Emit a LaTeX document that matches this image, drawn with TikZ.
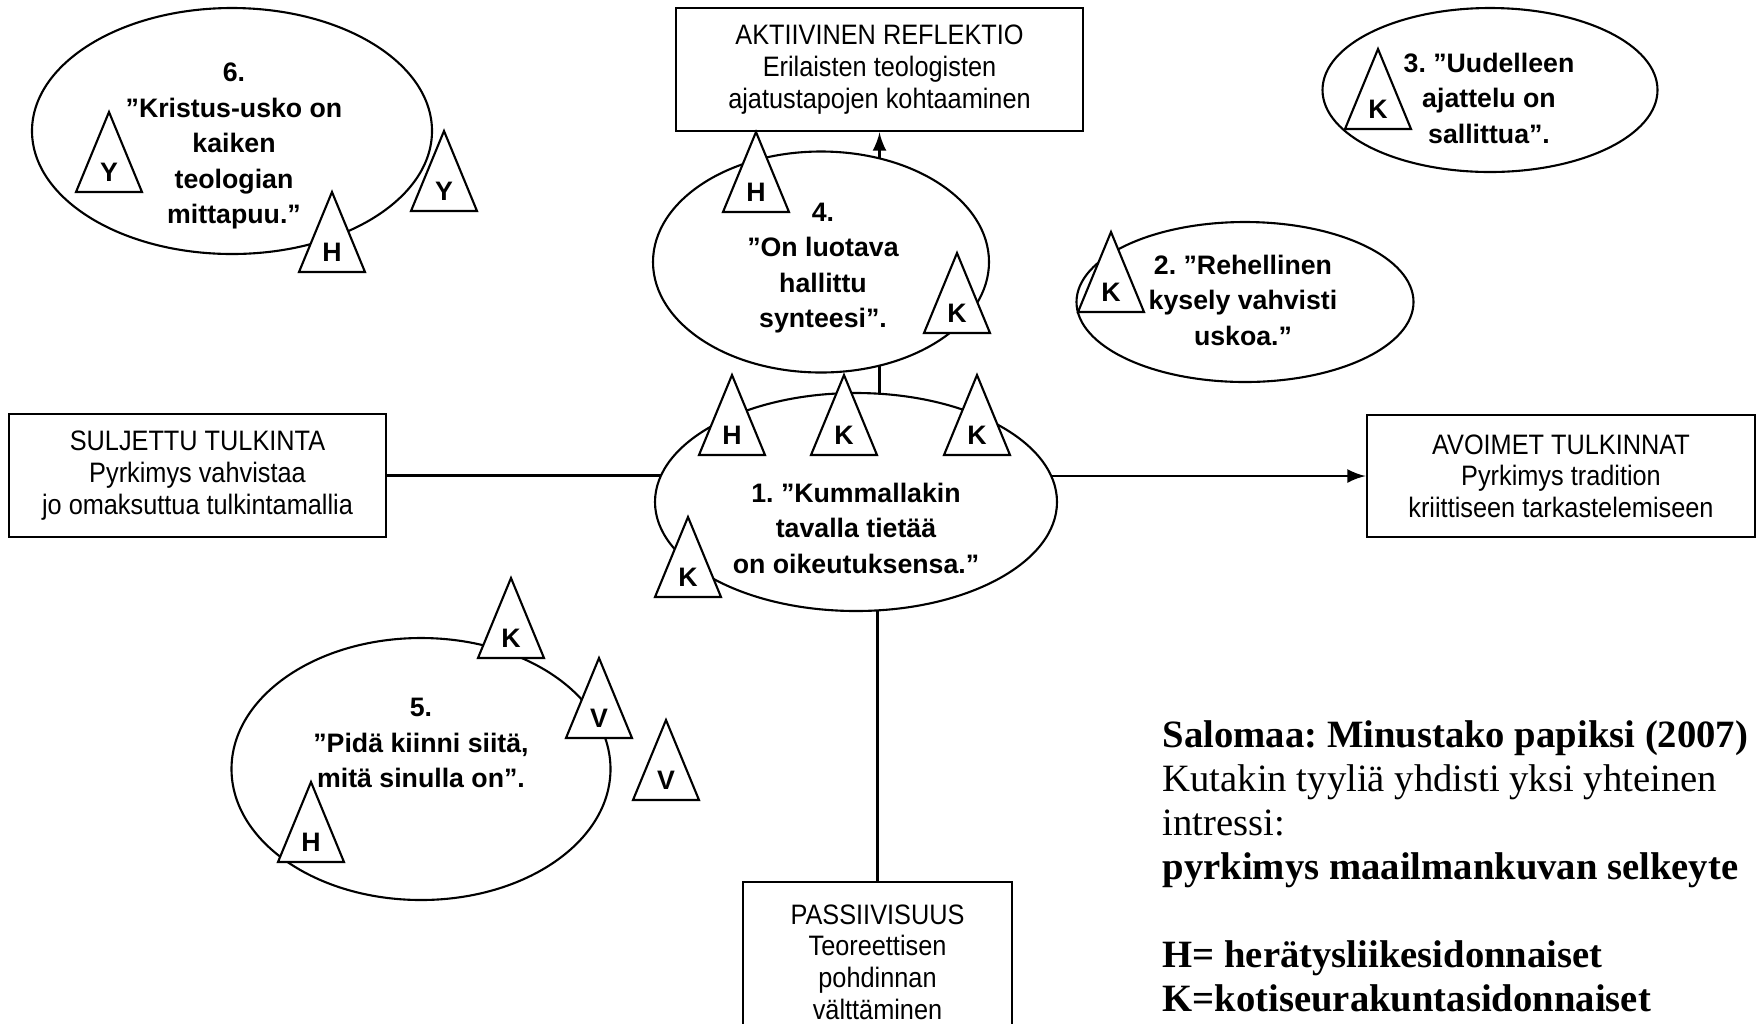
\documentclass[tikz,border=0pt]{standalone}
\usepackage{fontspec}
\setmainfont{Liberation Serif}
\newfontfamily\boxfont[FakeStretch=0.9]{Liberation Sans}
\newfontfamily\quotefont{Liberation Sans}
\usetikzlibrary{arrows,positioning,calc,shapes.geometric,backgrounds}
\frenchspacing

% small triangle with a letter: name, apex, letter
\newcommand{\badge}[3]{%
  \draw[tri] (#2) -- ++(-33,80) -- ++(66,0) -- cycle;
  \node[letter] (#1) at ($(#2)+(0,60)$) {#3};
}

\begin{document}
\begin{tikzpicture}[x=0.1mm, y=-0.1mm,
    bubble/.style={draw, ellipse, fill=white, line width=0.6pt, inner sep=0pt},
    quote/.style={font=\quotefont\bfseries\fontsize{7.6}{10.1}\selectfont,
      align=center, inner sep=0pt},
    frame/.style={draw, fill=white, line width=0.8pt, inner sep=0pt, align=center,
      font=\boxfont\fontsize{8}{9}\selectfont},
    tri/.style={draw, fill=white, line width=0.6pt},
    letter/.style={font=\quotefont\bfseries\fontsize{7.6}{9}\selectfont, inner sep=0pt},
    link/.style={line width=0.8pt},
    note/.style={anchor=north west, align=left, inner sep=0pt,
      font=\fontsize{11}{12.5}\selectfont}
  ]
  \useasboundingbox (0,0) rectangle (1759,1023);
  \clip (0,0) rectangle (1759,1023);

  % Boxes
  \node[frame, minimum width=40.7mm, minimum height=12.3mm] (akt) at (879.5,69.5)
    {AKTIIVINEN REFLEKTIO\\Erilaisten teologisten\\ajatustapojen kohtaaminen};
  \node[frame, minimum width=37.7mm, minimum height=12.3mm] (sul) at (197.5,475.5)
    {SULJETTU TULKINTA\\Pyrkimys vahvistaa\\jo omaksuttua tulkintamallia};
  \node[frame, minimum width=38.8mm, minimum height=12.2mm] (avo) at (1561,476)
    {AVOIMET TULKINNAT\\Pyrkimys tradition\\kriittiseen tarkastelemiseen};
  \node[frame, minimum width=26.9mm, minimum height=16mm] (pas) at (877.5,962)
    {PASSIIVISUUS\\Teoreettisen\\pohdinnan\\välttäminen};

  % Ellipses
  \node[bubble, minimum width=40mm, minimum height=24.6mm] (e6) at (232,131) {};
  \node[bubble, minimum width=33.6mm, minimum height=22.1mm] (e4) at (821,262) {};
  \node[bubble, minimum width=33.5mm, minimum height=16.4mm] (e3) at (1490,90) {};
  \node[bubble, minimum width=33.7mm, minimum height=16mm] (e2) at (1245,302) {};
  \node[bubble, minimum width=40.2mm, minimum height=21.8mm] (e1) at (856,502) {};
  \node[bubble, minimum width=37.9mm, minimum height=26.2mm] (e5) at (421,769) {};

  \node[quote] (q6) at (234,146) {6.\\”Kristus-usko on\\kaiken\\teologian\\mittapuu.”};
  \node[quote] (q4) at (823,268) {4.\\”On luotava\\hallittu\\synteesi”.};
  \node[quote] (q3) at (1489,98) {3. ”Uudelleen\\ajattelu on\\sallittua”.};
  \node[quote] (q2) at (1243,300) {2. ”Rehellinen\\kysely vahvisti\\uskoa.”};
  \node[quote] (q1) at (856,528) {1. ”Kummallakin\\tavalla tietää\\on oikeutuksensa.”};
  \node[quote] (q5) at (421,743) {5.\\”Pidä kiinni siitä,\\mitä sinulla on”.};

  % Connectors
  \begin{scope}[on background layer]
    \draw[link] (sul.east) -- (sul.east -| e1.center);
    \draw[link, -latex] (e1.center |- avo.west) -- (avo.west);
    \draw[link, -latex] (e1.center -| akt.south) -- (akt.south);
    \draw[link] (e1.center -| pas.north) -- (pas.north);
  \end{scope}

  % Triangles
  \badge{y6a}{109,112}{Y}
  \badge{y6b}{444,131}{Y}
  \badge{h6}{332,192}{H}
  \badge{h4}{756,132}{H}
  \badge{k4}{957,253}{K}
  \badge{k3}{1378,49}{K}
  \badge{k2}{1111,232}{K}
  \badge{h1}{732,375}{H}
  \badge{k1a}{844,375}{K}
  \badge{k1b}{977,375}{K}
  \badge{k1c}{688,517}{K}
  \badge{k5}{511,578}{K}
  \badge{v5a}{599,658}{V}
  \badge{v5b}{666,720}{V}
  \badge{h5}{311,782}{H}

  % Source text
  \node[note] (src) at (1162,720) {\textbf{Salomaa: Minustako papiksi (2007)}\\
    Kutakin tyyliä yhdisti yksi yhteinen\\
    intressi:\\
    \textbf{pyrkimys maailmankuvan selkeyte}\\[12.5pt]
    \textbf{H= herätysliikesidonnaiset}\\
    \textbf{K=kotiseurakuntasidonnaiset}};
\end{tikzpicture}
\end{document}
